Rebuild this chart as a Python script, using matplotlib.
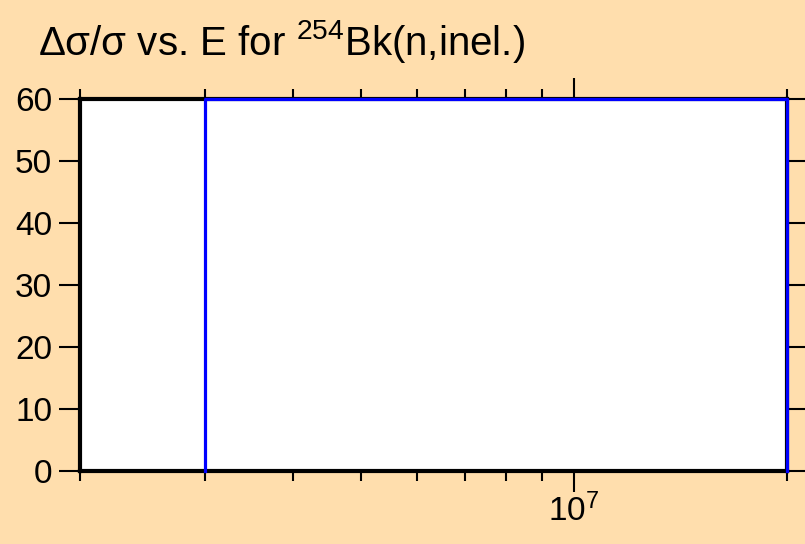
import matplotlib
matplotlib.use('Agg')
import matplotlib.pyplot as plt
from matplotlib.ticker import LogLocator, NullFormatter, FixedLocator

# data (energy in eV, relative uncertainty in %)
energy = [3e6, 3e6, 2e7, 2e7]
rel_unc = [0, 60, 60, 0]
x_range = [2e6, 2e7]
y_ticks = [0, 10, 20, 30, 40, 50, 60]

plt.rcParams['font.family'] = ['Liberation Sans', 'DejaVu Sans']
plt.rcParams['mathtext.default'] = 'regular'

bg = '#FFDEAD'
fig = plt.figure(figsize=(8.05, 5.44), dpi=100, facecolor=bg)
ax = fig.add_axes([0.0994, 0.1342, 0.8782, 0.6838])
ax.set_facecolor('white')

ax.plot(energy, rel_unc, color='#0000FF', linewidth=2.3, clip_on=False, zorder=3)

ax.set_xscale('log')
ax.set_xlim(x_range)
ax.set_ylim(0, 60)
ax.yaxis.set_major_locator(FixedLocator(y_ticks))
ax.xaxis.set_major_locator(LogLocator(base=10))
ax.xaxis.set_minor_locator(LogLocator(base=10, subs=range(2, 10)))
ax.xaxis.set_minor_formatter(NullFormatter())

for s in ax.spines.values():
    s.set_linewidth(3)
    s.set_color('black')

ax.tick_params(axis='both', which='major', direction='out', length=15, width=1.5,
               labelsize=24, top=True, right=True, pad=5)
ax.tick_params(axis='x', which='minor', direction='out', length=7, width=1.5,
               top=True, bottom=True)
ax.tick_params(axis='x', which='major', pad=1)

fig.text(0.047, 0.899, r'$\Delta\sigma/\sigma$ vs. E for $^{254}$Bk(n,inel.)',
         fontsize=29, ha='left', va='baseline')

fig.savefig('out.png', dpi=100, facecolor=bg)
